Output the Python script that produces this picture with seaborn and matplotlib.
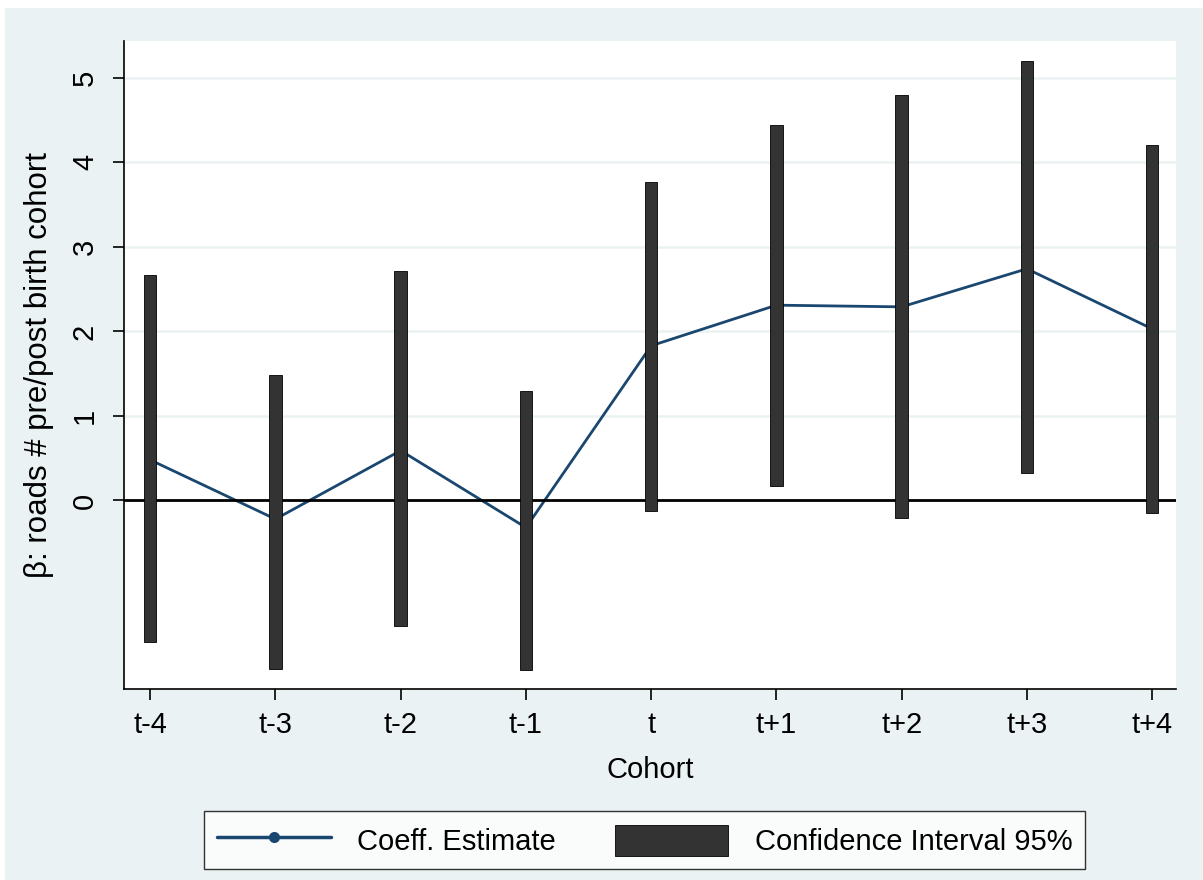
import numpy as np
import pandas as pd
import matplotlib
matplotlib.use('Agg')
import matplotlib.pyplot as plt
import seaborn as sns
from matplotlib.patches import Rectangle, Patch
from matplotlib.lines import Line2D

# values
cohorts = ['t-4', 't-3', 't-2', 't-1', 't', 't+1', 't+2', 't+3', 't+4']
estimate = [0.48, -0.22, 0.59, -0.32, 1.83, 2.31, 2.29, 2.74, 2.03]
ci_low = [-1.67, -1.99, -1.49, -2.01, -0.13, 0.17, -0.21, 0.32, -0.15]
ci_high = [2.67, 1.49, 2.71, 1.29, 3.77, 4.44, 4.79, 5.20, 4.20]

df = pd.DataFrame({'cohort': cohorts, 'estimate': estimate,
                   'lo': ci_low, 'hi': ci_high})
df['pos'] = np.arange(len(df))

sns.set_theme(style='white', rc={'text.color': 'black', 'axes.labelcolor': 'black',
                                 'xtick.color': 'black', 'ytick.color': 'black'})
plt.rcParams['font.family'] = ['Liberation Sans', 'DejaVu Sans']

bg = '#eaf2f3'
navy = '#1a476f'
fs = 21

fig = plt.figure(figsize=(12.03, 8.8), dpi=100)
fig.patch.set_facecolor('white')
fig.patches.append(Rectangle((0.004, 0.0), 0.996, 0.991, transform=fig.transFigure,
                             facecolor=bg, edgecolor='none', zorder=-10))
ax = fig.add_axes([0.103, 0.217, 0.8745, 0.736])
ax.set_facecolor('white')

# CI bars
ax.bar(df['pos'], df['hi'] - df['lo'], bottom=df['lo'], width=0.1,
       color='#333333', edgecolor='black', linewidth=0.6, zorder=3)
# estimate line (sits under the bars)
sns.lineplot(data=df, x='pos', y='estimate', ax=ax, color=navy, linewidth=2,
             marker='o', markersize=7, markeredgewidth=0, zorder=2)
ax.axhline(0, color='black', linewidth=2, zorder=2.5)

ax.set_xlim(-0.21, 8.19)
ax.set_ylim(-2.23, 5.43)
ax.set_yticks([0, 1, 2, 3, 4, 5])
ax.set_yticklabels(['0', '1', '2', '3', '4', '5'], rotation=90, va='center')
ax.set_xticks(df['pos'])
ax.set_xticklabels(cohorts)
for y in [1, 2, 3, 4, 5]:
    ax.axhline(y, color=bg, linewidth=1.8, zorder=0)

ax.tick_params(axis='both', which='major', labelsize=fs, length=8, width=1.2,
               color='black', labelcolor='black', direction='out',
               bottom=True, left=True, pad=8)
ax.tick_params(axis='y', pad=10)
for side in ['top', 'right']:
    ax.spines[side].set_visible(False)
for side in ['left', 'bottom']:
    ax.spines[side].set_color('black')
    ax.spines[side].set_linewidth(1.2)

ax.set_xlabel('Cohort', fontsize=fs, labelpad=12, color='black')
ax.set_ylabel('β: roads # pre/post birth cohort', fontsize=22.5, labelpad=12,
              color='black')

handles = [Line2D([0], [0], color=navy, linewidth=2.5, marker='o', markersize=8,
                  markeredgewidth=0),
           Patch(facecolor='#333333', edgecolor='black', linewidth=0.6)]
leg = fig.legend(handles, ['Coeff. Estimate', 'Confidence Interval 95%'],
                 loc='center', bbox_to_anchor=(0.536, 0.045), ncol=2,
                 fontsize=fs, frameon=True, fancybox=False, handlelength=3.9,
                 handleheight=1.3, columnspacing=2.0, handletextpad=0.9,
                 borderpad=0.45, borderaxespad=0, labelcolor='black')
leg.get_frame().set_edgecolor('black')
leg.get_frame().set_linewidth(1.0)
leg.get_frame().set_facecolor('white')

fig.savefig('out.png', dpi=100, facecolor=fig.get_facecolor())
